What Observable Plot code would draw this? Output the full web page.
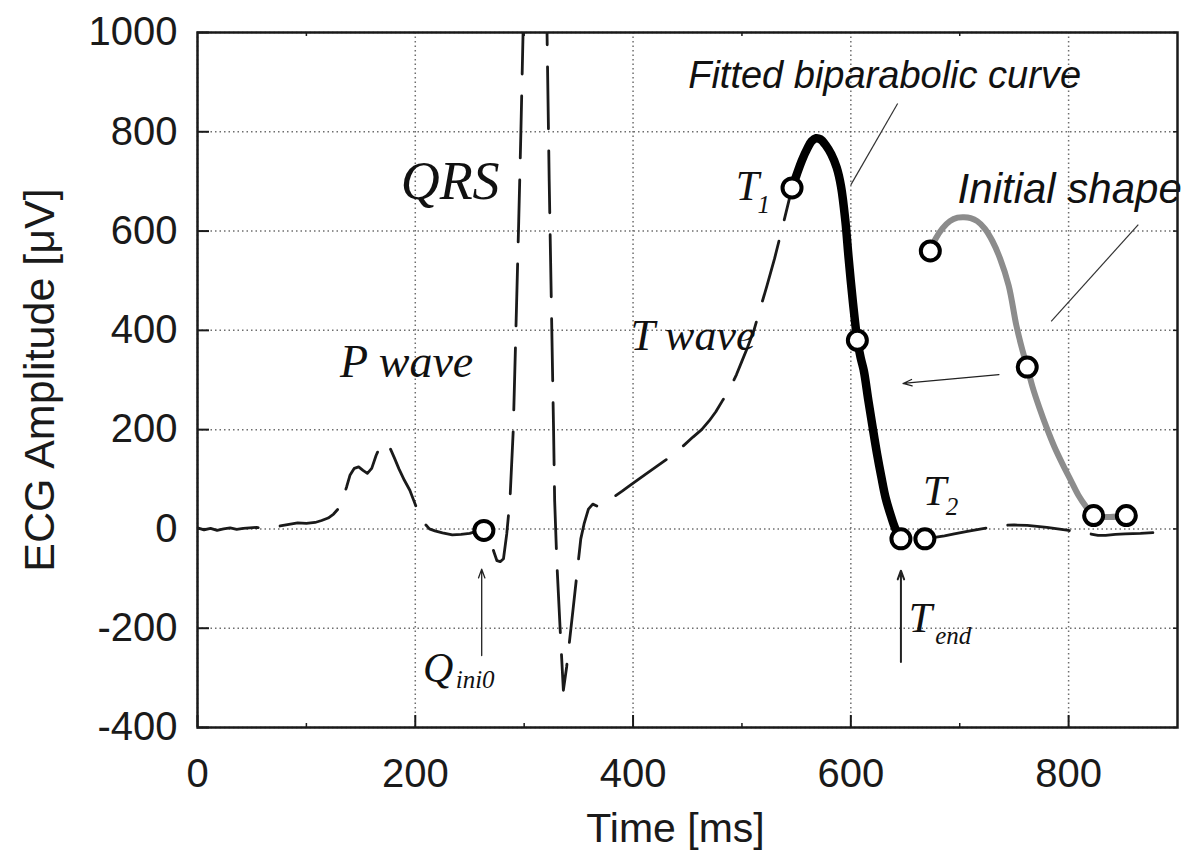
<!DOCTYPE html>
<html><head><meta charset="utf-8">
<script src="https://cdn.jsdelivr.net/npm/d3@7"></script>
<script src="https://cdn.jsdelivr.net/npm/@observablehq/plot@0.6"></script>
<style>body{margin:0;background:#fff}</style>
</head><body><div id="chart"></div>
<script>
// ---- axes ----
const xDomain = [0, 900];
const yDomain = [-400, 1000];
const xTicks = [0, 200, 400, 600, 800];
const xMinorTicks = [100, 300, 500, 700];
const yTicks = [-400, -200, 0, 200, 400, 600, 800, 1000];
const xTitle = "Time [ms]";
const yTitle = "ECG Amplitude [\u03bcV]";

// ---- raw ECG trace (dashed), up to T1 ----
const ecgT = [0,6,12,18,24,30,36,42,48,54,60,68,76,84,92,100,108,114,120,125,129,133,137,140,144,148,152,156,160,164,168,171,174,177,181,185,190,195,199,203,208,213,218,225,234,242,250,256,262,266,269,272,275,278,281,284,287,290,293,295,297,299,304,310,316,321,323,325,327,328,330,333,336,339,345,350,352,355,359,363,367,370,374,377,381,384,390,395,403,412,423,434,445,455,463,470,476,482,489,495,500,505,511,516,523,530,538,546];
const ecgV = [2,-2,1,-3,0,2,-1,1,2,3,2,3,6,9,12,11,13,17,22,30,40,58,85,108,122,125,118,112,122,148,168,175,171,162,142,121,98,78,55,32,12,0,-4,-8,-12,-11,-9,-5,-3,-6,-22,-45,-64,-66,-60,-10,60,200,450,620,800,1000,1350,1600,1300,1000,700,450,200,57,-67,-200,-325,-278,-160,-60,-20,10,40,50,46,47,54,57,62,67,76,84,97,111,128,145,165,185,200,218,236,258,283,311,338,365,400,438,490,545,615,687];
// ---- raw ECG trace after T2 ----
const tailT = [668,673,677,686,695,707,720,730,739,750,762,780,800,810,820,827,834,843,852,866,880];
const tailV = [-20,-18,-17,-14,-10,-5,0,4,7,8,7,3,-3,-7,-10,-13,-13,-11,-10,-9,-7];

// ---- fitted biparabolic curve (black) ----
const fitT = [546,550,555,560,564,568,572,577,582,587,591,595,598,602,606,609,612,616,620,624,628,632,637,641,646];
const fitV = [687,712,742,766,781,787,785,773,755,728,690,620,545,455,380,345,318,260,205,152,105,62,25,0,-20];

// ---- initial shape (grey) ----
const initT = [673,678,684,691,698,704,710,716,723,730,737,745,752,757,762,767,773,780,787,795,802,809,816,823,838,853];
const initV = [560,585,605,620,627,628,626,620,605,580,545,490,410,365,326,285,245,203,165,128,98,68,45,27,24,27];

// ---- marked points (circles) ----
const markT = [263,546,606,646,668,673,762,823,853];
const markV = [-3,687,380,-20,-20,560,326,27,27];

// ---- annotations ----
const serifText = ["QRS", "P wave", "T wave"];
const serifT = [232, 192, 455];
const serifV = [700, 335, 388];
const serifSize = [54, 46, 44];

const symText = ["T", "T", "T", "Q"];
const symT = [505, 677, 664, 221];
const symV = [689, 75, -181, -282];
const subText = ["1", "2", "end", "ini0"];
const subT = [520, 693, 694, 255];
const subV = [652, 44, -215, -305];

const sansText = ["Fitted biparabolic curve", "Initial shape"];
const sansT = [631, 801];
const sansV = [912, 683];
const sansSize = [38, 42];

// pointer lines (no head)
const ptrT1 = [643, 864], ptrV1 = [857, 613], ptrT2 = [600, 784], ptrV2 = [693, 418];
// arrows
const arrT1 = [261, 646, 736], arrV1 = [-255, -268, 311];
const arrT2 = [261, 646, 648], arrV2 = [-81, -84, 293];
const arrW = [1.3, 2, 1.3];

// ---- layout ----
const W = 1190, H = 868;
const mL = 197, mR = 13, mT = 32, mB = 141;
const plotW = W - mL - mR, plotH = H - mT - mB;
const ink = "#1a1a1a";
const sans = "'Liberation Sans', Arial, Helvetica, sans-serif";
const serif = "'Liberation Serif', 'Times New Roman', serif";

const idx = a => a.map((_, i) => i);

const chart = Plot.plot({
  width: W, height: H,
  marginLeft: mL, marginRight: mR, marginTop: mT, marginBottom: mB,
  style: {fontFamily: sans, background: "white", color: ink},
  x: {domain: xDomain},
  y: {domain: yDomain},
  marks: [
    Plot.gridX(xTicks, {stroke: "#555", strokeOpacity: 0.85, strokeWidth: 1.5, strokeDasharray: "1.5,3"}),
    Plot.gridY(yTicks, {stroke: "#555", strokeOpacity: 0.85, strokeWidth: 1.5, strokeDasharray: "1.5,3"}),
    // inward ticks
    Plot.tickX(xTicks, {x: d => d, insetTop: plotH - 12, stroke: ink, strokeWidth: 2}),
    Plot.tickX(xMinorTicks, {x: d => d, insetTop: plotH - 4, stroke: ink, strokeWidth: 1.5}),
    Plot.tickX(xMinorTicks, {x: d => d, insetBottom: plotH - 4, stroke: ink, strokeWidth: 1.5}),
    Plot.tickY(yTicks, {y: d => d, insetRight: plotW - 12, stroke: ink, strokeWidth: 2}),
    Plot.tickY(yTicks, {y: d => d, insetLeft: plotW - 4, stroke: ink, strokeWidth: 1.5}),
    Plot.axisX(xTicks, {tickSize: 0, tickPadding: 31, fontSize: 40, tickFormat: d => String(d), label: null}),
    Plot.axisY(yTicks, {tickSize: 0, tickPadding: 20, fontSize: 40, tickFormat: d => String(d), label: null}),
    Plot.text([xTitle], {frameAnchor: "bottom", dy: 114, dx: -12, fontSize: 41, fill: ink}),
    Plot.text([yTitle], {frameAnchor: "left", textAnchor: "middle", rotate: -90, dx: -157, fontSize: 43, fill: ink}),
    // traces
    Plot.line(idx(ecgT), {x: i => ecgT[i], y: i => ecgV[i], stroke: ink, strokeWidth: 2.8, strokeDasharray: "62,22", clip: true}),
    Plot.line(idx(tailT), {x: i => tailT[i], y: i => tailV[i], stroke: ink, strokeWidth: 2.8, strokeDasharray: "62,22", clip: true}),
    Plot.line(idx(initT), {x: i => initT[i], y: i => initV[i], stroke: "#8c8c8c", strokeWidth: 6, curve: "catmull-rom"}),
    Plot.line(idx(fitT), {x: i => fitT[i], y: i => fitV[i], stroke: "#000", strokeWidth: 8.5, curve: "catmull-rom"}),
    // pointers and arrows
    Plot.link(idx(ptrT1), {x1: i => ptrT1[i], y1: i => ptrV1[i], x2: i => ptrT2[i], y2: i => ptrV2[i], stroke: "#333", strokeWidth: 1.2}),
    Plot.arrow(idx(arrT1), {x1: i => arrT1[i], y1: i => arrV1[i], x2: i => arrT2[i], y2: i => arrV2[i], stroke: "#222", strokeWidth: i => arrW[i], headLength: 14, headAngle: 40}),
    Plot.dot(idx(markT), {x: i => markT[i], y: i => markV[i], r: 9.5, fill: "white", stroke: "#000", strokeWidth: 4}),
    // labels
    Plot.text(idx(serifText), {x: i => serifT[i], y: i => serifV[i], text: i => serifText[i], fontSize: i => serifSize[i], fontFamily: serif, fontStyle: "italic", fill: "#111"}),
    Plot.text(idx(symText), {x: i => symT[i], y: i => symV[i], text: i => symText[i], fontSize: 42, fontFamily: serif, fontStyle: "italic", fill: "#111"}),
    Plot.text(idx(subText), {x: i => subT[i], y: i => subV[i], text: i => subText[i], fontSize: 25, fontFamily: serif, fontStyle: "italic", fill: "#111"}),
    Plot.text(idx(sansText), {x: i => sansT[i], y: i => sansV[i], text: i => sansText[i], fontSize: i => sansSize[i], fontFamily: sans, fontStyle: "italic", fill: "#111"}),
    Plot.frame({stroke: ink, strokeWidth: 2.5})
  ]
});
document.getElementById("chart").append(chart);
</script>
</body></html>
